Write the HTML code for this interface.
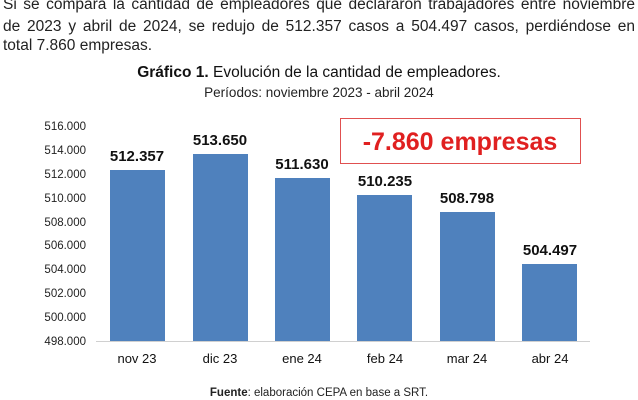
<!DOCTYPE html>
<html><head><meta charset="utf-8"><style>
body{margin:0;width:638px;height:400px;overflow:hidden;background:#fff;font-family:"Liberation Sans",Arial,sans-serif;position:relative}
.p{position:absolute;left:3px;width:632px;font-size:15.5px;line-height:19.5px;color:#222;text-align:justify;text-align-last:justify}
</style></head><body>
<div class="p" style="top:-5px">Si se compara la cantidad de empleadores que declararon trabajadores entre noviembre</div>
<div class="p" style="top:17px">de 2023 y abril de 2024, se redujo de 512.357 casos a 504.497 casos, perdiéndose en</div>
<div class="p" style="top:36px;text-align-last:left">total 7.860 empresas.</div>
<div style="position:absolute;top:64px;left:0;width:638px;text-align:center;font-size:15.5px;color:#111"><b>Gráfico 1.</b> Evolución de la cantidad de empleadores.</div>
<div style="position:absolute;top:85px;left:0;width:638px;text-align:center;font-size:13.5px;color:#222">Períodos: noviembre 2023 - abril 2024</div>
<svg width="638" height="400" style="position:absolute;left:0;top:0" font-family="Liberation Sans,Arial,sans-serif">
<g font-size="11.5" fill="#222" text-anchor="end">
<text x="86" y="130">516.000</text><text x="86" y="154">514.000</text><text x="86" y="178">512.000</text><text x="86" y="202">510.000</text><text x="86" y="226">508.000</text><text x="86" y="249">506.000</text><text x="86" y="273">504.000</text><text x="86" y="297">502.000</text><text x="86" y="321">500.000</text><text x="86" y="345">498.000</text>
</g>
<line x1="96" y1="341.5" x2="590" y2="341.5" stroke="#d0d0d0"/>
<g fill="#4f81bd">
<rect x="110" y="170" width="55" height="171"/>
<rect x="193" y="154" width="55" height="187"/>
<rect x="275" y="178" width="55" height="163"/>
<rect x="357" y="195" width="55" height="146"/>
<rect x="440" y="212" width="55" height="129"/>
<rect x="522" y="264" width="55" height="77"/>
</g>
<g font-size="15" font-weight="bold" fill="#111" text-anchor="middle">
<text x="137" y="161">512.357</text><text x="220" y="145">513.650</text><text x="302" y="169">511.630</text><text x="385" y="186">510.235</text><text x="467" y="203">508.798</text><text x="550" y="255">504.497</text>
</g>
<g font-size="13" fill="#111" text-anchor="middle">
<text x="137" y="363">nov 23</text><text x="220" y="363">dic 23</text><text x="302" y="363">ene 24</text><text x="385" y="363">feb 24</text><text x="467" y="363">mar 24</text><text x="550" y="363">abr 24</text>
</g>
<rect x="340.5" y="118.5" width="240" height="45" fill="#fff" stroke="#e05050"/>
<text x="460" y="150" font-size="25" font-weight="bold" fill="#e02020" text-anchor="middle">-7.860 empresas</text>
<text x="319" y="396" font-size="11.5" fill="#222" text-anchor="middle"><tspan font-weight="bold">Fuente</tspan>: elaboración CEPA en base a SRT.</text>
</svg>
</body></html>
